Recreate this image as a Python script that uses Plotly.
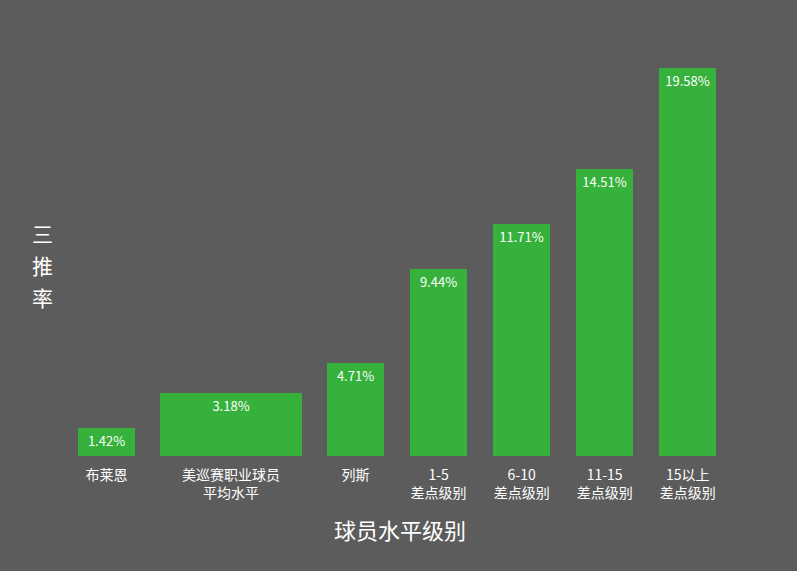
import plotly.graph_objects as go

# three-putt rate by player level
categories = ['布莱恩', '美巡赛职业球员<br>平均水平', '列斯', '1-5<br>差点级别',
              '6-10<br>差点级别', '11-15<br>差点级别', '15以上<br>差点级别']
rates = [1.42, 3.18, 4.71, 9.44, 11.71, 14.51, 19.58]
labels = ['1.42%', '3.18%', '4.71%', '9.44%', '11.71%', '14.51%', '19.58%']
y_title_chars = ['三', '推', '率']

# layout of the bars (the tour-average bar is wider)
x_pos = [0, 1.5, 3, 4, 5, 6, 7]
widths = [0.69, 1.71, 0.69, 0.69, 0.69, 0.69, 0.69]

BG = '#5c5c5c'
GREEN = '#36b13b'
FONT = 'Noto Sans CJK SC'

fig = go.Figure()

fig.add_trace(
    go.Bar(
        x=x_pos,
        y=rates,
        width=widths,
        text=labels,
        textposition='inside',
        insidetextanchor='end',
        textangle=0,
        textfont={'color': 'white', 'size': 13, 'family': FONT},
        marker={'color': GREEN, 'line': {'width': 0}},
        showlegend=False,
        hoverinfo='skip',
    )
)

fig.update_xaxes(
    range=[-0.56, 7.63],
    tickvals=x_pos,
    ticktext=categories,
    tickfont={'color': 'white', 'size': 14, 'family': FONT},
    ticklabelstandoff=9,
    showgrid=False,
    zeroline=False,
    showline=False,
    ticks='',
    title={'text': '球员水平级别', 'font': {'color': 'white', 'size': 22, 'family': FONT},
           'standoff': 22},
)

fig.update_yaxes(
    range=[0, 21.0],
    visible=False,
    showgrid=False,
    zeroline=False,
)

# vertical y title, one character per line
for i, ch in enumerate(y_title_chars):
    fig.add_annotation(
        text=ch,
        x=-0.026, y=0.46,
        xref='paper', yref='paper',
        xanchor='center', yanchor='middle',
        yshift=(1 - i) * 32,
        showarrow=False,
        font={'color': 'white', 'size': 21, 'family': FONT},
    )

fig.update_layout(
    width=797,
    height=571,
    paper_bgcolor=BG,
    plot_bgcolor=BG,
    margin={'l': 60, 'r': 57, 't': 40, 'b': 115},
    font={'family': FONT, 'color': 'white'},
    bargap=0,
)

fig.write_html('out.html', config={'displayModeBar': False},
               post_script="document.body.style.margin='0';")
